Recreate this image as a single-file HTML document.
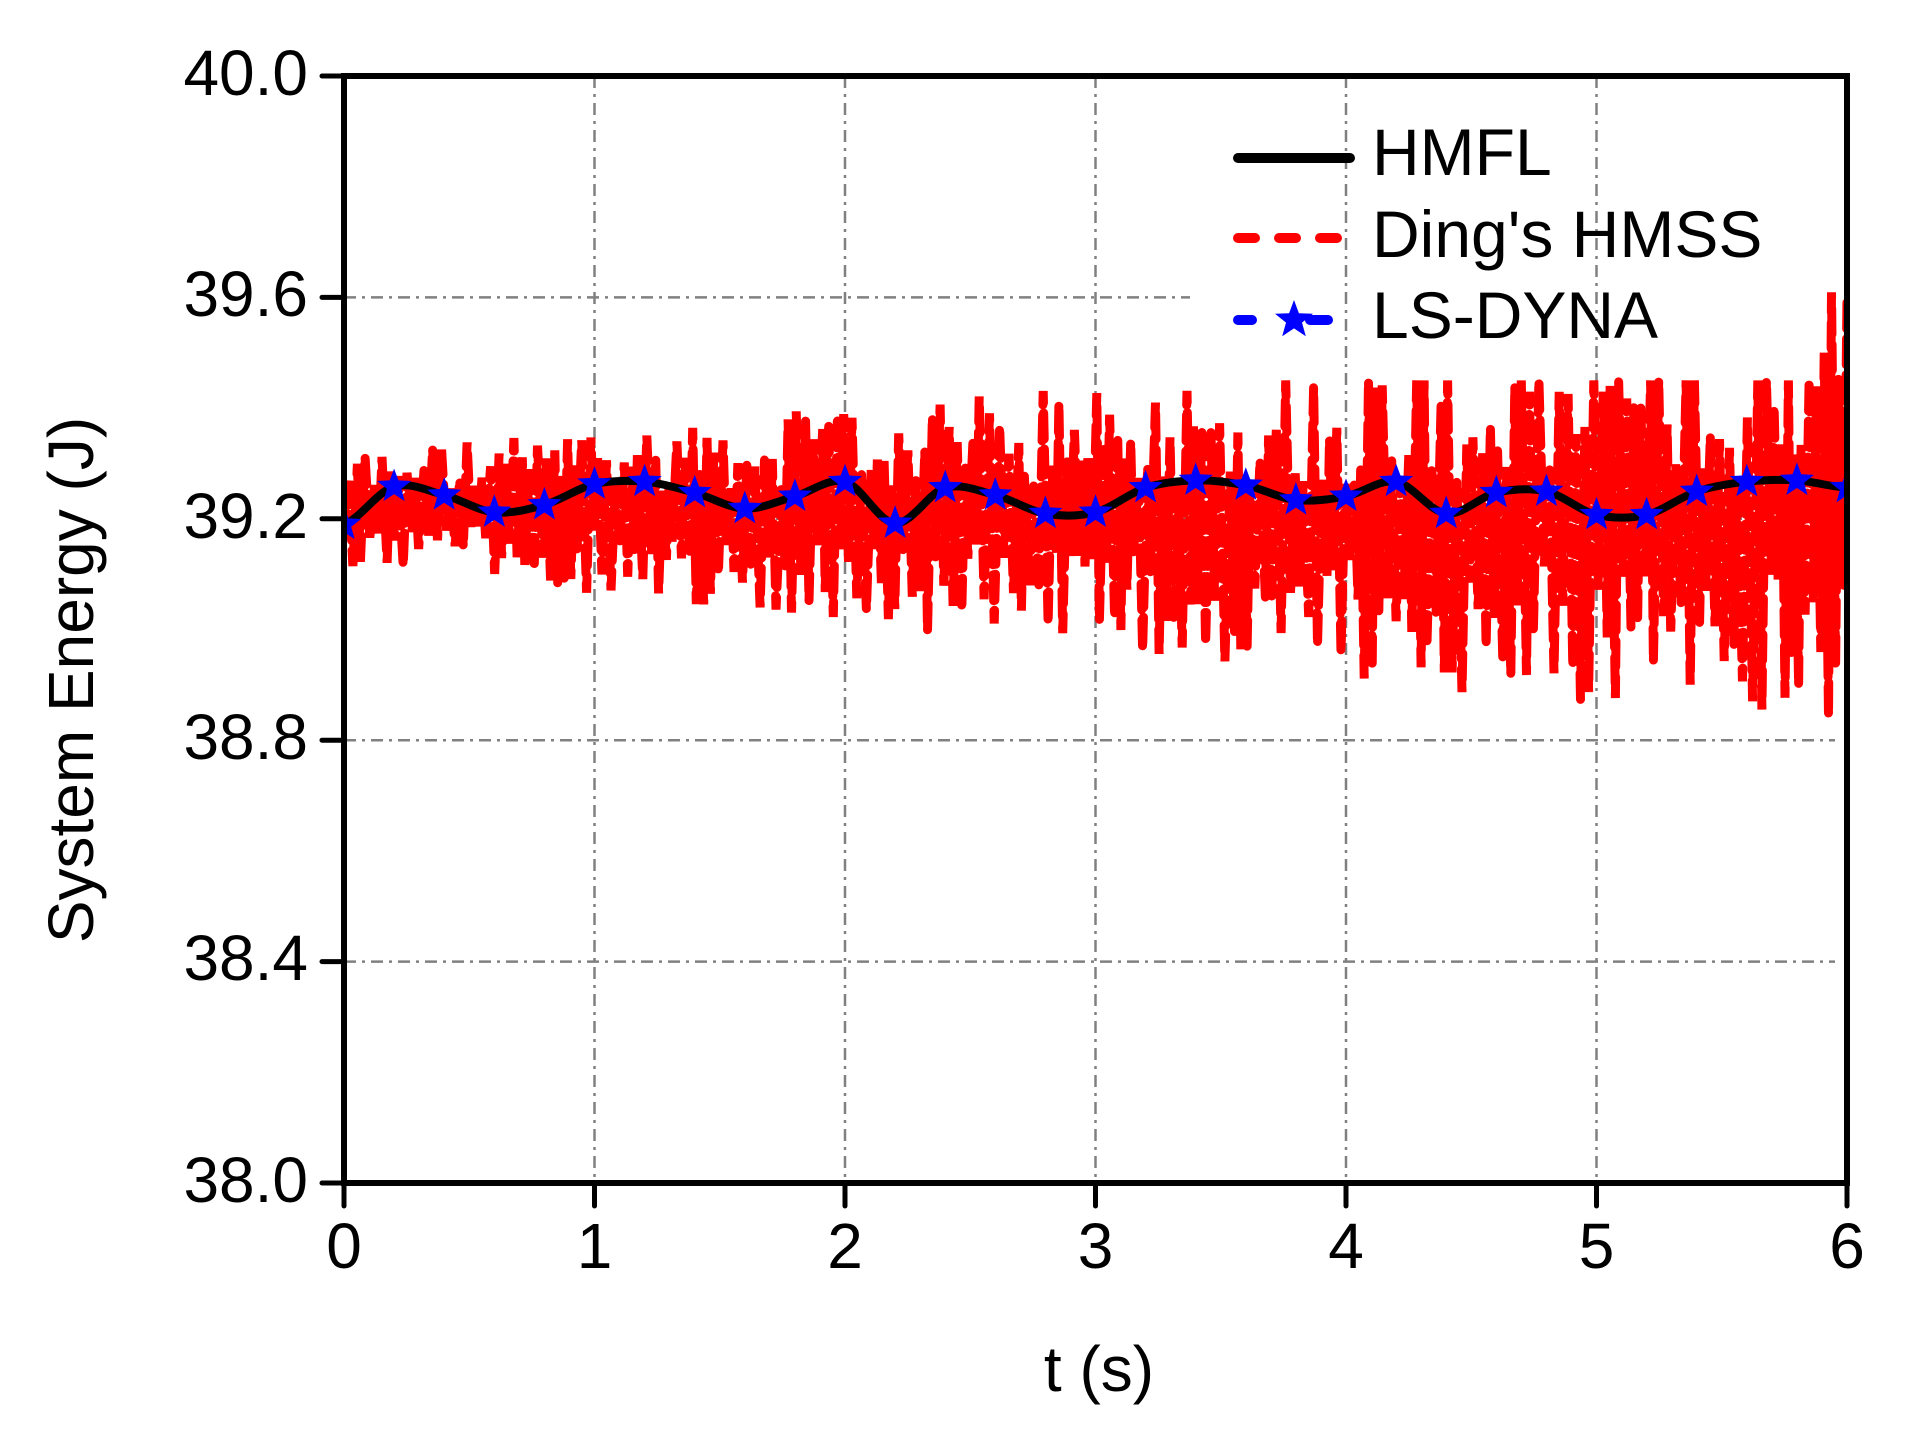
<!DOCTYPE html>
<html><head><meta charset="utf-8"><style>
html,body{margin:0;padding:0;background:#fff;}
svg{display:block;}
text{font-family:"Liberation Sans",Arial,sans-serif;fill:#000;}
</style></head><body>
<svg id="s" width="1912" height="1436" viewBox="0 0 1912 1436" xmlns="http://www.w3.org/2000/svg">
<g stroke="#808080" stroke-width="2.5" stroke-dasharray="12,6,3,6" fill="none">
<line x1="594.5" y1="76" x2="594.5" y2="1183"/>
<line x1="845" y1="76" x2="845" y2="1183"/>
<line x1="1095.5" y1="76" x2="1095.5" y2="1183"/>
<line x1="1346" y1="76" x2="1346" y2="1183"/>
<line x1="1596.5" y1="76" x2="1596.5" y2="1183"/>
<line x1="344" y1="297.4" x2="1190" y2="297.4"/>
<line x1="344" y1="518.8" x2="1835" y2="518.8"/>
<line x1="344" y1="740.2" x2="1835" y2="740.2"/>
<line x1="344" y1="961.6" x2="1835" y2="961.6"/>
</g>
<defs><clipPath id="cp"><rect x="344" y="76" width="1503" height="1107"/></clipPath></defs>
<g clip-path="url(#cp)">
<path id="red" fill="none" stroke="#f00" stroke-width="9" stroke-dasharray="26,10" stroke-linecap="round"/>
<path id="blk" fill="none" stroke="#000" stroke-width="8"/>
<g id="stars" fill="#0000ff"></g>
</g>
<rect x="344" y="76" width="1503" height="1107" fill="none" stroke="#000" stroke-width="6"/>
<g stroke="#000" stroke-width="5" stroke-linecap="round">
<line x1="322" y1="76" x2="344" y2="76"/><line x1="322" y1="297.4" x2="344" y2="297.4"/><line x1="322" y1="518.8" x2="344" y2="518.8"/><line x1="322" y1="740.2" x2="344" y2="740.2"/><line x1="322" y1="961.6" x2="344" y2="961.6"/><line x1="322" y1="1183" x2="344" y2="1183"/>
<line x1="344" y1="1183" x2="344" y2="1206"/><line x1="594.5" y1="1183" x2="594.5" y2="1206"/><line x1="845" y1="1183" x2="845" y2="1206"/><line x1="1095.5" y1="1183" x2="1095.5" y2="1206"/><line x1="1346" y1="1183" x2="1346" y2="1206"/><line x1="1596.5" y1="1183" x2="1596.5" y2="1206"/><line x1="1847" y1="1183" x2="1847" y2="1206"/>
</g>
<g font-size="64" text-anchor="end">
<text x="308" y="95">40.0</text><text x="308" y="316">39.6</text><text x="308" y="538">39.2</text><text x="308" y="759">38.8</text><text x="308" y="980">38.4</text><text x="308" y="1202">38.0</text>
</g>
<g font-size="64" text-anchor="middle">
<text x="344" y="1268">0</text><text x="594.5" y="1268">1</text><text x="845" y="1268">2</text><text x="1095.5" y="1268">3</text><text x="1346" y="1268">4</text><text x="1596.5" y="1268">5</text><text x="1847" y="1268">6</text>
<text x="1099" y="1391">t (s)</text>
<text transform="translate(93,680) rotate(-90)">System Energy (J)</text>
</g>
<line x1="1238" y1="158" x2="1350" y2="158" stroke="#000" stroke-width="10" stroke-linecap="round"/>
<line x1="1238" y1="238" x2="1350" y2="238" stroke="#f00" stroke-width="10" stroke-dasharray="17,24" stroke-linecap="round"/>
<line x1="1238" y1="320" x2="1252" y2="320" stroke="#00f" stroke-width="10" stroke-linecap="round"/>
<line x1="1310" y1="320" x2="1328" y2="320" stroke="#00f" stroke-width="10" stroke-linecap="round"/>
<polygon id="lstar" fill="#00f"/>
<g font-size="66"><text x="1372" y="175">HMFL</text><text x="1372" y="257">Ding's HMSS</text><text x="1372" y="338">LS-DYNA</text></g>
</svg>
<script>
var X=function(t){return 344+t*250.5;};
var Yv=function(v){return 1183-(v-38)*553.5;};
var ysd=[428,397,404,418,412,395,393,402,415,405,393,427,398,404,419,418,398,392,396,408,405,393,419,402,401,420,420,401,393,392,398];
var ys=ysd.map(function(y){return y*1.2256;});
function starPts(cx,cy,R){var r=R*0.42,p=[];for(var i=0;i<10;i++){var a=-Math.PI/2+i*Math.PI/5,rr=i%2?r:R;p.push((cx+rr*Math.cos(a)).toFixed(1)+","+(cy+rr*Math.sin(a)).toFixed(1));}return p.join(" ");}
var d="M"+X(0)+","+ys[0];
for(var i=0;i<ys.length-1;i++){var p0=ys[Math.max(0,i-1)],p1=ys[i],p2=ys[i+1],p3=ys[Math.min(ys.length-1,i+2)];
var x1=X(i*0.2),x2=X((i+1)*0.2),dx=x2-x1;
d+=" C"+(x1+dx/3).toFixed(1)+","+(p1+(p2-p0)/6).toFixed(1)+" "+(x2-dx/3).toFixed(1)+","+(p2-(p3-p1)/6).toFixed(1)+" "+x2.toFixed(1)+","+p2.toFixed(1);}
document.getElementById("blk").setAttribute("d",d);
var h="";
for(var i=0;i<ys.length;i++){h+='<polygon points="'+starPts(X(i*0.2),ys[i],18)+'"/>';}
document.getElementById("stars").innerHTML=h;
document.getElementById("lstar").setAttribute("points",starPts(1294,320,20));
var seed=12345;function rnd(){seed=(seed*1103515245+12345)&0x7fffffff;return seed/0x7fffffff;}
var r="M344,"+Yv(39.2).toFixed(1);var x=344;var up=true;
while(x<1847){x+=2.5+rnd()*3;var t=(x-344)/250.5;
var c=39.22-0.006*t;var a=0.08+0.035*t;
var v=up? c+a*(0.3+rnd()*1.0) : c-a*(0.3+rnd()*1.0);
if(t>3.3&&v>39.45)v=39.45;
if(t<1&&v>39.36)v=39.3+rnd()*0.06;
if(t>5.9&&up)v=39.45+rnd()*0.17;
up=!up;r+=" L"+x.toFixed(1)+","+Yv(v).toFixed(1);}
document.getElementById("red").setAttribute("d",r);
</script>
</body></html>
